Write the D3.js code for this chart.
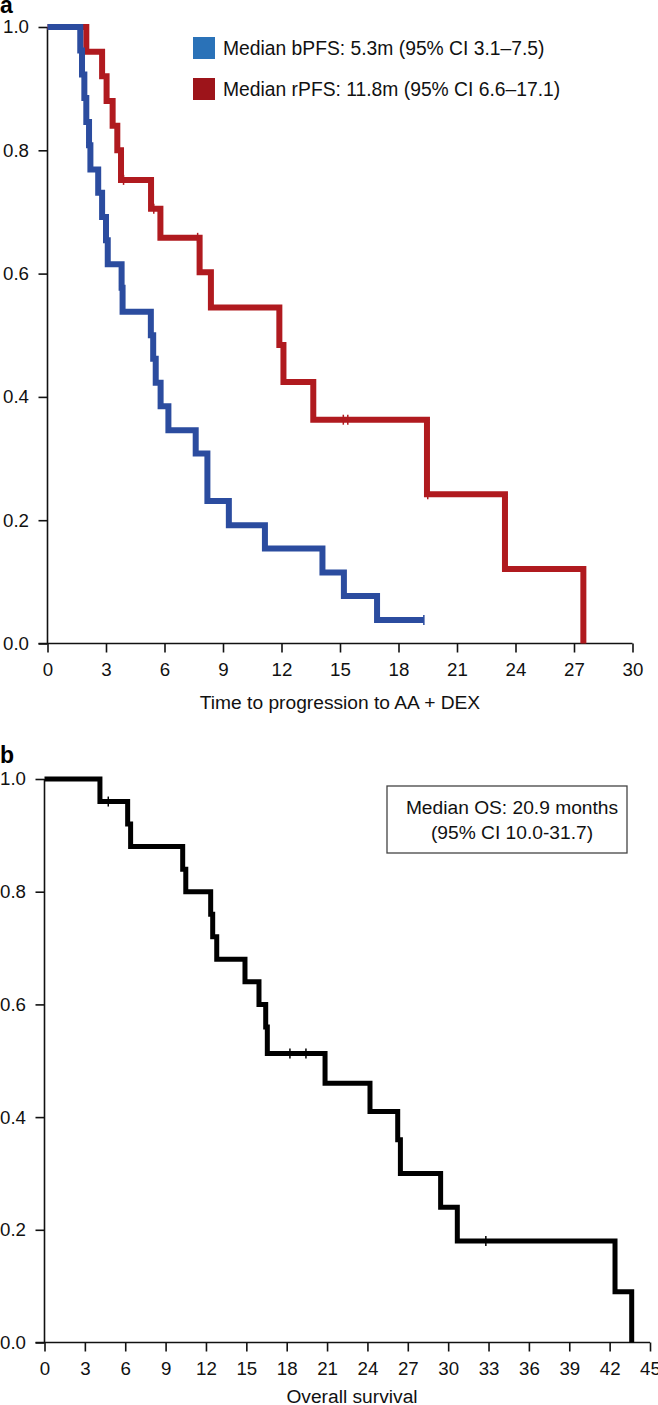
<!DOCTYPE html>
<html>
<head>
<meta charset="utf-8">
<script src="https://cdn.jsdelivr.net/npm/d3@7"></script>
<style>
  html, body { margin: 0; padding: 0; background: #fff; }
  svg { display: block; font-family: "Liberation Sans", Arial, Helvetica, sans-serif; }
</style>
</head>
<body>
<svg id="chart" width="658" height="1405"></svg>
<script>
// ---------- Panel a data ----------
const bpfsTimes = [0, 1.68, 1.77, 1.89, 1.99, 2.13, 2.2, 2.6, 2.8, 3.0, 3.09, 3.8, 3.85, 5.3, 5.42, 5.55, 5.8, 6.2, 7.6, 8.2, 9.3, 11.15, 14.1, 15.2, 16.9];
const bpfsSurv  = [1.0, 0.962, 0.923, 0.885, 0.846, 0.808, 0.769, 0.731, 0.692, 0.654, 0.615, 0.577, 0.538, 0.500, 0.462, 0.423, 0.385, 0.346, 0.308, 0.231, 0.192, 0.154, 0.115, 0.077, 0.038];
const bpfsEnd = 19.3;
const bpfsCensor = [19.3];

const rpfsTimes = [0, 1.99, 2.8, 3.03, 3.34, 3.58, 3.77, 5.31, 5.79, 7.8, 8.38, 11.89, 12.1, 13.63, 19.46, 23.46, 27.48];
const rpfsSurv  = [1.0, 0.96, 0.92, 0.88, 0.84, 0.80, 0.752, 0.705, 0.658, 0.602, 0.545, 0.484, 0.424, 0.363, 0.242, 0.121, 0.0];
const rpfsEnd = 27.48;
const rpfsCensor = [3.9, 5.45, 7.7, 15.17, 15.4, 19.5];

const aXTicks = [0, 3, 6, 9, 12, 15, 18, 21, 24, 27, 30];
const yTicks = [0.0, 0.2, 0.4, 0.6, 0.8, 1.0];
const legendLabels = ["Median bPFS: 5.3m (95% CI 3.1\u20137.5)", "Median rPFS: 11.8m (95% CI 6.6\u201317.1)"];
const aXTitle = "Time to progression to AA + DEX";

// ---------- Panel b data ----------
const osTimes = [0, 4.12, 6.18, 6.4, 10.27, 10.5, 12.35, 12.5, 12.8, 14.9, 15.94, 16.44, 16.56, 20.85, 24.19, 26.25, 26.45, 29.44, 30.68, 42.4, 43.64];
const osSurv  = [1.0, 0.96, 0.92, 0.88, 0.84, 0.80, 0.76, 0.72, 0.68, 0.64, 0.60, 0.56, 0.513, 0.46, 0.41, 0.36, 0.30, 0.24, 0.18, 0.09, 0.0];
const osEnd = 43.64;
const osCensor = [4.74, 18.24, 19.43, 32.8];

const bXTicks = [0, 3, 6, 9, 12, 15, 18, 21, 24, 27, 30, 33, 36, 39, 42, 45];
const osBoxLines = ["Median OS: 20.9 months", "(95% CI 10.0-31.7)"];
const bXTitle = "Overall survival";

// ---------- Drawing ----------
const svg = d3.select("#chart");
const TICK_FONT = 18.7;
const TITLE_FONT = 19.2;
const LEGEND_FONT = 19.3;

function survAt(times, surv, t) {
  let s = surv[0];
  for (let i = 0; i < times.length; i++) if (times[i] <= t) s = surv[i];
  return s;
}

function drawPanel(cfg) {
  const x = d3.scaleLinear().domain(cfg.xDomain).range(cfg.xRange);
  const y = d3.scaleLinear().domain([0, 1]).range(cfg.yRange);
  const g = svg.append("g");

  const yAxis = d3.axisLeft(y).tickValues(yTicks).tickFormat(d3.format(".1f")).tickSize(9).tickPadding(9.5);
  const xAxis = d3.axisBottom(x).tickValues(cfg.xTicks).tickFormat(d3.format("d")).tickSize(9).tickPadding(10);

  const ya = g.append("g").attr("transform", `translate(${cfg.xRange[0]},0)`).call(yAxis);
  const xa = g.append("g").attr("transform", `translate(0,${cfg.yRange[0]})`).call(xAxis);
  [ya, xa].forEach(a => {
    a.select(".domain").attr("stroke", "#111").attr("stroke-width", 1.6);
    a.selectAll(".tick line").attr("stroke", "#111").attr("stroke-width", 1.6);
    a.selectAll(".tick text").attr("fill", "#111").style("font-size", TICK_FONT + "px")
      .style("font-family", '"Liberation Sans", Arial, Helvetica, sans-serif');
  });
  ya.select(".domain").attr("d", `M0,${cfg.yRange[0]}V${cfg.yRange[1]}`);
  xa.select(".domain").attr("d", `M${cfg.xRange[0] - 9},0H${cfg.xRange[1]}`);

  g.append("text")
    .attr("x", cfg.titleX).attr("y", cfg.titleY)
    .attr("text-anchor", "middle")
    .style("font-size", TITLE_FONT + "px").attr("fill", "#111")
    .text(cfg.title);

  g.append("text")
    .attr("x", 0).attr("y", cfg.letterY)
    .style("font-size", "23px").style("font-weight", "bold").attr("fill", "#000")
    .text(cfg.letter);

  const line = d3.line().x(d => x(d[0])).y(d => y(d[1])).curve(d3.curveStepAfter);

  cfg.series.forEach(s => {
    const pts = s.times.map((t, i) => [t, s.surv[i]]);
    pts.push([s.end, s.surv[s.surv.length - 1]]);
    g.append("path").datum(pts)
      .attr("fill", "none").attr("stroke", s.color).attr("stroke-width", s.width)
      .attr("stroke-linejoin", "miter").attr("stroke-linecap", "butt")
      .attr("d", line);
    g.selectAll(null).data(s.censor).enter().append("line")
      .attr("x1", d => x(d)).attr("x2", d => x(d))
      .attr("y1", d => y(survAt(s.times, s.surv, d)) - 5)
      .attr("y2", d => y(survAt(s.times, s.surv, d)) + 5)
      .attr("stroke", s.color).attr("stroke-width", 1.5);
  });
  return { x, y, g };
}

// Panel a
drawPanel({
  xDomain: [0, 30], xRange: [47.5, 632.5], yRange: [643.5, 27],
  xTicks: aXTicks, title: aXTitle, titleX: 340, titleY: 708.5,
  letter: "a", letterY: 13,
  series: [
    { times: rpfsTimes, surv: rpfsSurv, end: rpfsEnd, censor: rpfsCensor, color: "#b01a1f", width: 6 },
    { times: bpfsTimes, surv: bpfsSurv, end: bpfsEnd, censor: bpfsCensor, color: "#2b4c9f", width: 6 }
  ]
});

// legend a
const legColors = ["#2a72b8", "#9d141a"];
legendLabels.forEach((lab, i) => {
  const yy = 37 + i * 41;
  svg.append("rect").attr("x", 193).attr("y", yy).attr("width", 22).attr("height", 22).attr("fill", legColors[i]);
  svg.append("text").attr("x", 223).attr("y", yy + 18)
    .style("font-size", LEGEND_FONT + "px").attr("fill", "#111").text(lab);
});

// Panel b
drawPanel({
  xDomain: [0, 45], xRange: [44.5, 650], yRange: [1342.5, 779],
  xTicks: bXTicks, title: bXTitle, titleX: 352, titleY: 1403,
  letter: "b", letterY: 763,
  series: [
    { times: osTimes, surv: osSurv, end: osEnd, censor: osCensor, color: "#000", width: 5 }
  ]
});

// text box b
svg.append("rect").attr("x", 387).attr("y", 786).attr("width", 240).attr("height", 67)
  .attr("fill", "#fff").attr("stroke", "#444").attr("stroke-width", 1.3);
osBoxLines.forEach((t, i) => {
  svg.append("text").attr("x", 512).attr("y", 814 + i * 25)
    .attr("text-anchor", "middle").style("font-size", TITLE_FONT + "px").attr("fill", "#111").text(t);
});
</script>
</body>
</html>
